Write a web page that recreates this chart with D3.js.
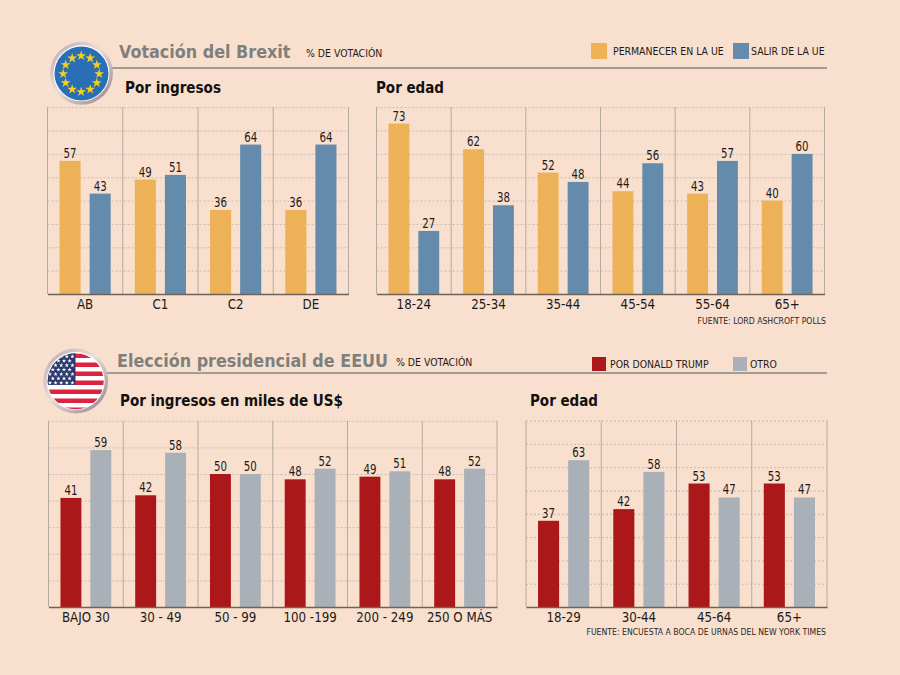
<!DOCTYPE html>
<html>
<head>
<meta charset="utf-8">
<script src="https://cdn.jsdelivr.net/npm/d3@7"></script>
<style>
  html, body { margin: 0; padding: 0; background: #f9e0ce; }
  svg { display: block; }
  text { font-family: "DejaVu Sans Condensed", "DejaVu Sans", sans-serif; fill: #1c1a18; }
  .title { font-weight: bold; font-size: 17.8px; fill: #7f7f7d; }
  .sub { font-weight: bold; font-size: 16px; fill: #111; }
  .small { font-size: 10.4px; }
  .source { font-size: 8.65px; fill: #2a2724; }
  .val { font-size: 13.5px; text-anchor: middle; }
  .cat text { font-size: 13.2px; }
  .grid line { stroke: #c6bbb0; stroke-dasharray: 2 2; }
  .grid path { display: none; }
</style>
</head>
<body>
<div class="chart"></div>
<script>
let svgWidth = 900;
let svgHeight = 675;

// Brexit
let brexitSeries = ["PERMANECER EN LA UE", "SALIR DE LA UE"];
let brexitColors = ["#edb158", "#648bab"];
let brexitIncomeCats = ["AB", "C1", "C2", "DE"];
let brexitIncomeRemain = [57, 49, 36, 36];
let brexitIncomeLeave = [43, 51, 64, 64];
let brexitAgeCats = ["18-24", "25-34", "35-44", "45-54", "55-64", "65+"];
let brexitAgeRemain = [73, 62, 52, 44, 43, 40];
let brexitAgeLeave = [27, 38, 48, 56, 57, 60];

// EEUU
let usSeries = ["POR DONALD TRUMP", "OTRO"];
let usColors = ["#ac1719", "#a9b0b8"];
let usIncomeCats = ["BAJO 30", "30 - 49", "50 - 99", "100 -199", "200 - 249", "250 O MÁS"];
let usIncomeTrump = [41, 42, 50, 48, 49, 48];
let usIncomeOther = [59, 58, 50, 52, 51, 52];
let usAgeCats = ["18-29", "30-44", "45-64", "65+"];
let usAgeTrump = [37, 42, 53, 53];
let usAgeOther = [63, 58, 47, 47];

let svg = d3.select(".chart")
  .append("svg")
  .attr("width", svgWidth)
  .attr("height", svgHeight);

let defs = svg.append("defs");
let ring = defs.append("linearGradient")
  .attr("id", "ring")
  .attr("x1", "0").attr("y1", "0").attr("x2", "1").attr("y2", "1");
ring.append("stop").attr("offset", "0").attr("stop-color", "#b9a9ae");
ring.append("stop").attr("offset", "0.45").attr("stop-color", "#e9dedb");
ring.append("stop").attr("offset", "1").attr("stop-color", "#8f7f86");

function drawPanel(cats, a, b, colors, box, maxVal) {
  let x = d3.scaleBand().domain(cats).range([box.left, box.right]);
  let sub = d3.scaleBand().domain([0, 1]).range([0, x.bandwidth()])
    .paddingInner(0.3).paddingOuter(0.4);
  let y = d3.scaleLinear().domain([0, maxVal]).range([box.bottom, box.bottom - box.unit * maxVal]);

  // horizontal dashes
  svg.append("g")
    .attr("class", "grid")
    .attr("transform", `translate(${box.left}, 0)`)
    .call(d3.axisLeft(y).tickValues(d3.range(10, maxVal + 1, 10)).tickSize(-(box.right - box.left)).tickFormat(""));

  // vertical separators
  let seps = cats.map(c => x(c)).concat([box.right]);
  svg.append("g").selectAll("line")
    .data(seps)
    .enter()
    .append("line")
    .attr("x1", d => d).attr("x2", d => d)
    .attr("y1", y(maxVal)).attr("y2", box.bottom)
    .attr("stroke", "#b4aaa0");

  [a, b].forEach(function(values, s) {
    let g = svg.append("g");
    g.selectAll("rect")
      .data(values)
      .enter()
      .append("rect")
      .attr("x", (d, i) => x(cats[i]) + sub(s))
      .attr("y", d => y(d))
      .attr("width", sub.bandwidth())
      .attr("height", d => box.bottom - y(d))
      .attr("fill", colors[s]);
    g.selectAll("text")
      .data(values)
      .enter()
      .append("text")
      .attr("class", "val")
      .attr("x", (d, i) => x(cats[i]) + sub(s) + sub.bandwidth() / 2)
      .attr("y", d => y(d) - 3)
      .attr("textLength", 13)
      .attr("lengthAdjust", "spacingAndGlyphs")
      .text(d => d);
  });

  let axis = svg.append("g")
    .attr("class", "cat")
    .attr("transform", `translate(0, ${box.bottom})`)
    .call(d3.axisBottom(x).tickSize(0).tickPadding(6));
  axis.select("path").attr("stroke", "#6f6258").attr("stroke-width", 1.6);
}

function drawHeader(title, titleX, titleY, note, noteX, ruleX, ruleY) {
  svg.append("line")
    .attr("x1", ruleX).attr("x2", 827)
    .attr("y1", ruleY).attr("y2", ruleY)
    .attr("stroke", "#a09c96").attr("stroke-width", 2.2);
  svg.append("text").attr("class", "title").attr("x", titleX).attr("y", titleY).text(title);
  svg.append("text").attr("class", "small").attr("x", noteX).attr("y", titleY - 1).text(note);
}

function drawSub(label, x, y, w) {
  svg.append("text").attr("class", "sub").attr("x", x).attr("y", y)
    .attr("textLength", w).attr("lengthAdjust", "spacingAndGlyphs").text(label);
}

function drawLegend(labels, colors, items) {
  items.forEach(function(it, i) {
    svg.append("rect")
      .attr("x", it.x).attr("y", it.y)
      .attr("width", it.size).attr("height", it.size)
      .attr("fill", colors[i]);
    svg.append("text")
      .attr("class", "small")
      .attr("x", it.tx).attr("y", it.y + it.size / 2 + 4)
      .text(labels[i]);
  });
}

function badge(cx, cy, r, outer) {
  svg.append("circle").attr("cx", cx).attr("cy", cy).attr("r", outer).attr("fill", "url(#ring)");
  svg.append("circle").attr("cx", cx).attr("cy", cy).attr("r", r + 1).attr("fill", "#fff");
}

// rules go under the round badges
drawHeader("Votación del Brexit", 119, 58, "% DE VOTACIÓN", 306, 105, 68);
drawHeader("Elección presidencial de EEUU", 117, 367, "% DE VOTACIÓN", 396, 100, 373);

// EU flag
badge(81.5, 73.3, 27, 31.5);
svg.append("circle").attr("cx", 81.5).attr("cy", 73.5).attr("r", 27).attr("fill", "#2a6fb5");
let star = d3.symbol().type(d3.symbolStar).size(30);
svg.append("g").selectAll("path")
  .data(d3.range(12))
  .enter()
  .append("path")
  .attr("d", star)
  .attr("fill", "#f7d117")
  .attr("transform", d => {
    let a = d / 12 * 2 * Math.PI;
    return `translate(${81.2 + 18 * Math.sin(a)}, ${73.8 - 18 * Math.cos(a)})`;
  });

// US flag
badge(75.7, 381, 28, 32.5);
defs.append("clipPath").attr("id", "usClip")
  .append("circle").attr("cx", 75.7).attr("cy", 381.3).attr("r", 28);
let flag = svg.append("g").attr("clip-path", "url(#usClip)");
let stripe = d3.scaleBand().domain(d3.range(13)).range([353.5, 412]);
flag.selectAll("rect.stripe")
  .data(d3.range(13))
  .enter()
  .append("rect")
  .attr("class", "stripe")
  .attr("x", 46).attr("width", 60)
  .attr("y", d => stripe(d))
  .attr("height", stripe.bandwidth())
  .attr("fill", d => d % 2 ? "#fff" : "#dc2340");
flag.append("rect").attr("x", 46).attr("y", 353).attr("width", 29.5).attr("height", 32).attr("fill", "#2c3a70");
d3.range(7).forEach(function(row) {
  d3.range(row % 2 ? 4 : 5).forEach(function(col) {
    flag.append("path")
      .attr("d", d3.symbol().type(d3.symbolStar).size(6))
      .attr("fill", "#fff")
      .attr("transform", `translate(${50 + col * 5.6 + (row % 2 ? 2.8 : 0)}, ${356.5 + row * 4.4})`);
  });
});

drawLegend(brexitSeries, brexitColors, [
  { x: 591, y: 43, size: 16, tx: 613 },
  { x: 733, y: 43, size: 16, tx: 751 }
]);
drawLegend(usSeries, usColors, [
  { x: 592, y: 357, size: 14, tx: 610 },
  { x: 733, y: 357, size: 14, tx: 750 }
]);

drawSub("Por ingresos", 125, 93, 96);
drawSub("Por edad", 376, 93, 68);
drawSub("Por ingresos en miles de US$", 120, 406, 223);
drawSub("Por edad", 530, 406, 68);

drawPanel(brexitIncomeCats, brexitIncomeRemain, brexitIncomeLeave, brexitColors,
  { left: 47.5, right: 348.5, bottom: 294, unit: 2.335 }, 80);
drawPanel(brexitAgeCats, brexitAgeRemain, brexitAgeLeave, brexitColors,
  { left: 376.5, right: 824.5, bottom: 294, unit: 2.335 }, 80);
drawPanel(usIncomeCats, usIncomeTrump, usIncomeOther, usColors,
  { left: 48.5, right: 497, bottom: 607, unit: 2.66 }, 70);
drawPanel(usAgeCats, usAgeTrump, usAgeOther, usColors,
  { left: 526, right: 827, bottom: 607, unit: 2.33 }, 80);

svg.append("text").attr("class", "source").attr("x", 826).attr("y", 324)
  .attr("text-anchor", "end").text("FUENTE: LORD ASHCROFT POLLS");
svg.append("text").attr("class", "source").attr("x", 826).attr("y", 634.5)
  .attr("text-anchor", "end").text("FUENTE: ENCUESTA A BOCA DE URNAS DEL NEW YORK TIMES");
</script>
</body>
</html>
